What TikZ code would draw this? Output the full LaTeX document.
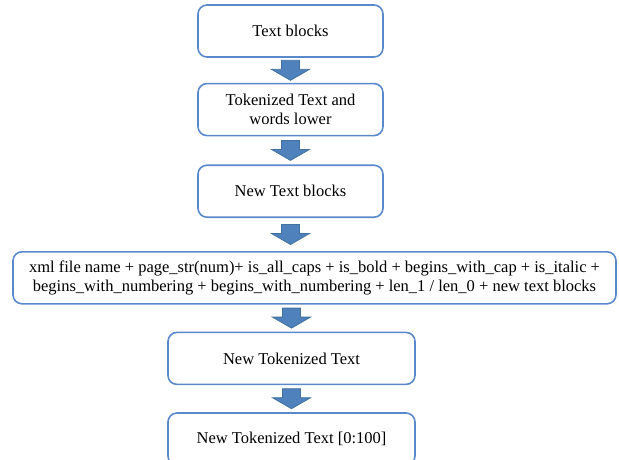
\documentclass[tikz,border=0pt]{standalone}
\usepackage{fontspec}
\setmainfont{Liberation Serif}
\usetikzlibrary{positioning,calc}

\definecolor{boxline}{HTML}{5A89CB}
\definecolor{arrowfill}{HTML}{4F81BD}
\definecolor{arrowline}{HTML}{41719C}

% block arrow in the gap between two boxes, x taken from the third node
\newcommand{\flowarrow}[3]{%
  \filldraw[flow arrow] let \p1=($(#1.south)!.5!(#2.north)$), \p2=(#3.south) in
    (\x2-9,\y1+10) -- (\x2+9,\y1+10) -- (\x2+9,\y1+1) -- (\x2+19,\y1+1)
    -- (\x2,\y1-10) -- (\x2-19,\y1+1) -- (\x2-9,\y1+1) -- cycle;}

\begin{document}
\begin{tikzpicture}[x=1pt,y=-1pt,
  block/.style={draw=boxline,line width=1.6pt,rounded corners=9pt,align=center,
    minimum height=52pt,inner sep=2pt,font=\fontsize{16.5}{19.5}\selectfont},
  flow arrow/.style={fill=arrowfill,draw=arrowline,line width=0.8pt}]

  \useasboundingbox (0,0) rectangle (619,459);

  \node[block,minimum width=185pt] (blocks) at (290.5,31) {Text blocks};
  \node[block,minimum width=185pt] (tokens) [below=25pt of blocks] {Tokenized Text and\\words lower};
  \node[block,minimum width=185pt] (newblocks) [below=28pt of tokens] {New Text blocks};
  \node[block,minimum width=603pt] (features) [below=33pt of newblocks,xshift=24pt]
    {xml file name + page\_str(num)+ is\_all\_caps + is\_bold + begins\_with\_cap + is\_italic +\\
     begins\_with\_numbering + begins\_with\_numbering + len\_1 / len\_0 + new text blocks};
  \node[block,minimum width=247pt] (newtokens) [below=27pt of features,xshift=-23pt] {New Tokenized Text};
  \node[block,minimum width=247pt] (truncated) [below=27pt of newtokens] {New Tokenized Text [0:100]};

  \flowarrow{blocks}{tokens}{blocks}
  \flowarrow{tokens}{newblocks}{tokens}
  \flowarrow{newblocks}{features}{newblocks}
  \flowarrow{features}{newtokens}{newtokens}
  \flowarrow{newtokens}{truncated}{newtokens}
\end{tikzpicture}
\end{document}
